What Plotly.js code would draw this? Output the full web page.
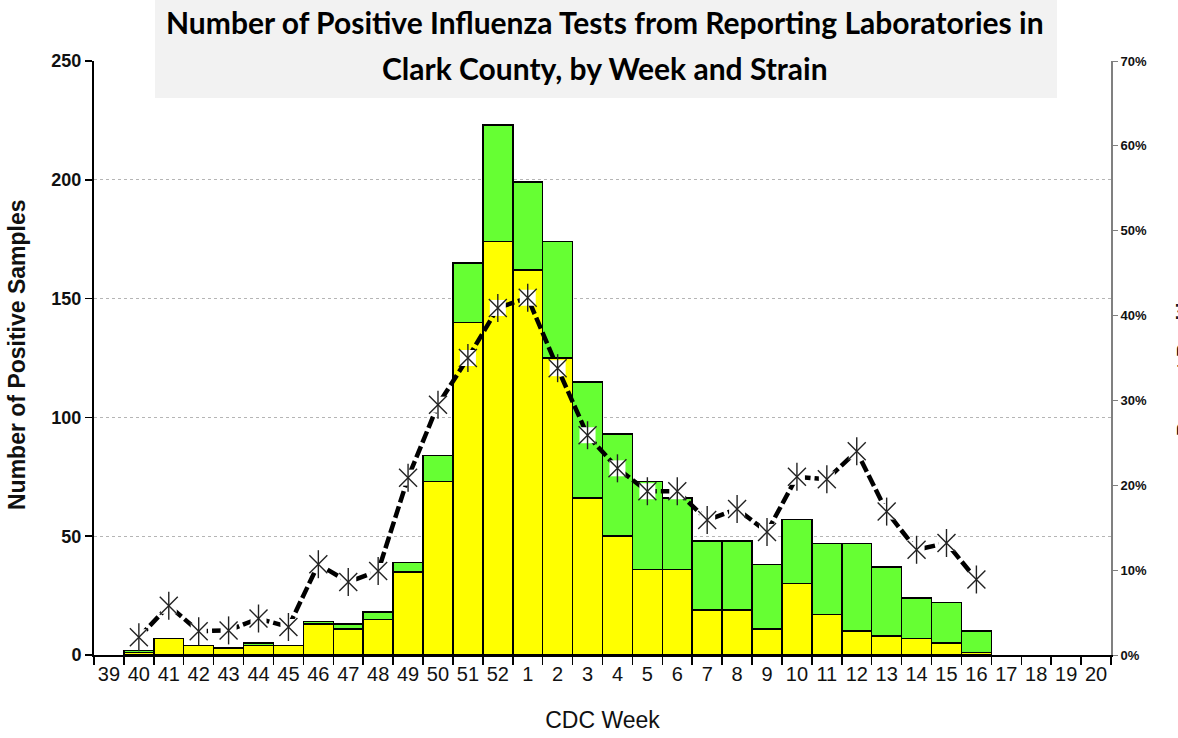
<!DOCTYPE html>
<html>
<head>
<meta charset="utf-8">
<script src="https://cdn.plot.ly/plotly-3.0.1.min.js"></script>
<style>html,body{margin:0;padding:0;background:#fff;}#chart{width:1178px;height:738px;}</style>
</head>
<body>
<div id="chart"></div>
<script>
// CDC weeks shown on the x axis
const weeks = ['39','40','41','42','43','44','45','46','47','48','49','50','51','52',
  '1','2','3','4','5','6','7','8','9','10','11','12','13','14','15','16','17','18','19','20'];

// Positive tests, yellow part of each bar (bottom)
const yellowCounts = [null,1,7,4,3,4,4,13,11,15,35,73,140,174,
  162,125,66,50,36,36,19,19,11,30,17,10,8,7,5,1,null,null,null,null];

// Positive tests, green part of each bar (stacked on top)
const greenCounts = [null,1,null,null,null,1,null,1,2,3,4,11,25,49,
  37,49,49,43,37,30,29,29,27,27,30,37,29,17,17,9,null,null,null,null];

// Percent positive (right axis), in percent
const percentPositive = [null,2.1,5.8,2.8,2.9,4.3,3.3,10.7,8.6,9.9,20.9,29.5,35.0,40.9,
  42.1,33.8,25.9,22.0,19.3,19.3,15.9,17.2,14.5,21.0,20.7,24.0,16.9,12.4,13.2,8.9,null,null,null,null];

const titleLine1 = 'Number of Positive Influenza Tests from Reporting Laboratories in';
const titleLine2 = 'Clark County, by Week and Strain';

const arial = '"Liberation Sans", Arial, sans-serif';

const traces = [
  {type:'bar', name:'Influenza A', x:weeks, y:yellowCounts,
   marker:{color:'#ffff00', line:{color:'#000', width:1.5}}, hoverinfo:'x+y'},
  {type:'bar', name:'Influenza B', x:weeks, y:greenCounts,
   marker:{color:'#66ff33', line:{color:'#000', width:1.5}}, hoverinfo:'x+y'},
  {type:'scatter', mode:'lines', name:'Percent Positive', x:weeks, y:percentPositive, yaxis:'y2',
   line:{color:'#000', width:4.5, dash:'12px,4px'}, connectgaps:false},
  {type:'scatter', mode:'markers', x:weeks, y:percentPositive, yaxis:'y2', hoverinfo:'skip',
   marker:{symbol:'square', size:16, color:'#fff', line:{width:0}}},
  {type:'scatter', mode:'markers', x:weeks, y:percentPositive, yaxis:'y2', hoverinfo:'skip',
   marker:{symbol:'x-thin-open', size:18, color:'#222', line:{color:'#222', width:1.4}}},
  {type:'scatter', mode:'markers', x:weeks, y:percentPositive, yaxis:'y2', hoverinfo:'skip',
   marker:{symbol:'line-ns-open', size:20, color:'#222', line:{color:'#222', width:1.4}}}
];

const layout = {
  width:1178, height:738,
  margin:{l:94, r:67, t:61, b:83, pad:0},
  paper_bgcolor:'#fff', plot_bgcolor:'#fff',
  showlegend:false,
  barmode:'stack', bargap:0,
  xaxis:{
    type:'category', range:[-0.5, 33.5], tickangle:0,
    showline:true, linecolor:'#000', linewidth:2,
    ticks:'outside', tickson:'boundaries', ticklen:8, tickcolor:'#000', tickwidth:1.5,
    tickfont:{family:arial, size:20, color:'#111'},
    showgrid:false, zeroline:false,
    title:{text:'CDC Week', font:{family:arial, size:23, color:'#111'}, standoff:28}
  },
  yaxis:{
    range:[0,250], dtick:50,
    showline:true, linecolor:'#000', linewidth:2,
    ticks:'outside', ticklen:7, tickcolor:'#000', tickwidth:1.5,
    tickfont:{family:arial, size:18, color:'#111', weight:'bold'},
    showgrid:true, gridcolor:'#b5b5b5', griddash:'dot', gridwidth:1,
    zeroline:false
  },
  yaxis2:{
    overlaying:'y', side:'right', range:[0,70], dtick:10, ticksuffix:'%',
    showline:true, linecolor:'#808080', linewidth:2,
    ticks:'outside', ticklen:5, tickcolor:'#808080', tickwidth:1,
    tickfont:{family:arial, size:13, color:'#111', weight:'bold'},
    showgrid:false, zeroline:false
  },
  shapes:[
    {type:'rect', xref:'paper', yref:'paper', layer:'above',
     x0:(155-94)/1017, x1:(1057-94)/1017, y0:(655-98)/594, y1:(655-0)/594,
     fillcolor:'#f2f2f2', line:{width:0}}
  ],
  annotations:[
    {xref:'paper', yref:'paper', x:(605-94)/1017, y:(655-22)/594, showarrow:false,
     text:'<b>'+titleLine1+'</b>', font:{family:'Lato, "Open Sans", sans-serif', size:30, color:'#000'},
     xanchor:'center', yanchor:'middle'},
    {xref:'paper', yref:'paper', x:(605-94)/1017, y:(655-68)/594, showarrow:false,
     text:'<b>'+titleLine2+'</b>', font:{family:'Lato, "Open Sans", sans-serif', size:30, color:'#000'},
     xanchor:'center', yanchor:'middle'},
    {xref:'paper', yref:'paper', x:0, y:(655-355)/594, xshift:-77, showarrow:false, textangle:-90,
     text:'<b>Number of Positive Samples</b>', font:{family:arial, size:23, color:'#111'},
     xanchor:'center', yanchor:'middle'},
    {xref:'paper', yref:'paper', x:1, y:(655-358)/594, xshift:1184-1111, showarrow:false, textangle:-90,
     text:'<b>Percent Positive</b>', font:{family:arial, size:20, color:'#111'},
     xanchor:'center', yanchor:'middle'}
  ]
};

Plotly.newPlot('chart', traces, layout, {displayModeBar:false, staticPlot:true});
</script>
</body>
</html>
